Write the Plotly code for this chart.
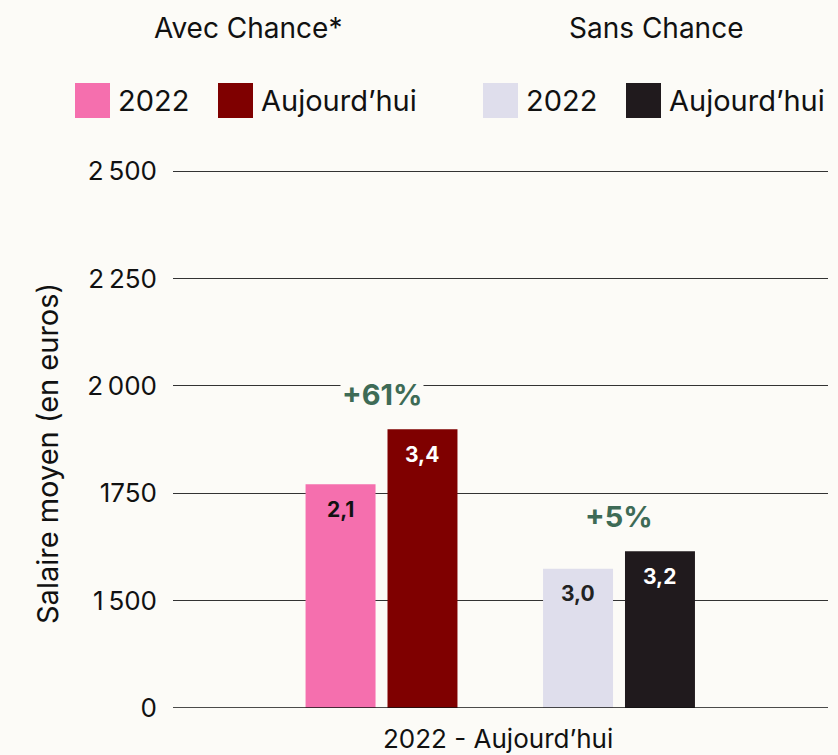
import plotly.graph_objects as go

# ---- data ----
groups = ["Avec Chance*", "Sans Chance"]
series_names = ["2022", "Aujourd\u2019hui"]
values_2022 = [1771, 1574]
values_today = [1899, 1615]
labels_2022 = ["2,1", "3,0"]
labels_today = ["3,4", "3,2"]
growth_labels = ["+61%", "+5%"]
tick_vals = [1250, 1500, 1750, 2000, 2250, 2500]
tick_text = ["0", "1\u202f500", "1750", "2\u202f000", "2\u202f250", "2\u202f500"]
x_title = "2022 - Aujourd\u2019hui"
y_title = "Salaire moyen (en euros)"

# ---- style ----
BG = "#fcfbf7"
colors_2022 = ["#f56fae", "#dfdeec"]
colors_today = ["#7f0000", "#201a1d"]
label_colors_2022 = ["#111111", "#222222"]
label_colors_today = ["#ffffff", "#ffffff"]
GREEN = "#3e6b56"
FONT = "Inter"
TXT = "#111111"

W, H = 838, 755
L, R, T, B = 173, 10, 161, 47
PW, PH = W - L - R, H - T - B
PX_PER_UNIT = 107.4 / 250
Y_MIN = 1250
Y_MAX = Y_MIN + PH / PX_PER_UNIT


def px(xp):
    return (xp - L) / PW


def py(yp):
    return (H - B - yp) / PH


xs = list(range(len(groups)))

fig = go.Figure()
fig.add_trace(go.Bar(x=xs, y=values_2022, name=series_names[0],
                     marker=dict(color=colors_2022, line=dict(width=0)),
                     showlegend=False, hoverinfo="skip"))
fig.add_trace(go.Bar(x=xs, y=values_today, name=series_names[1],
                     marker=dict(color=colors_today, line=dict(width=0)),
                     showlegend=False, hoverinfo="skip"))

annotations = []
for i in xs:
    annotations.append(dict(x=i - 0.1725, y=values_2022[i], xref="x", yref="y",
                            text="<b>%s</b>" % labels_2022[i], showarrow=False,
                            yshift=-25, font=dict(family=FONT, size=21, color=label_colors_2022[i])))
    annotations.append(dict(x=i + 0.1725, y=values_today[i], xref="x", yref="y",
                            text="<b>%s</b>" % labels_today[i], showarrow=False,
                            yshift=-25, font=dict(family=FONT, size=21, color=label_colors_today[i])))
    annotations.append(dict(x=i, y=max(values_2022[i], values_today[i]), xref="x", yref="y",
                            text="<b>%s</b>" % growth_labels[i], showarrow=False,
                            yshift=35, bgcolor=BG,
                            font=dict(family=FONT, size=29, color=GREEN)))

title_cx = [248, 656]
sq_left = [[75, 218], [483, 626]]
shapes = []
for g in range(len(groups)):
    annotations.append(dict(x=px(title_cx[g]), y=py(28), xref="paper", yref="paper",
                            text=groups[g], showarrow=False, xanchor="center", yanchor="middle",
                            font=dict(family=FONT, size=28, color=TXT)))
    cols = [colors_2022[g], colors_today[g]]
    for s in range(2):
        x0 = sq_left[g][s]
        shapes.append(dict(type="rect", xref="paper", yref="paper",
                           x0=px(x0), x1=px(x0 + 35), y0=py(118), y1=py(83),
                           fillcolor=cols[s], line=dict(width=0)))
        annotations.append(dict(x=px(x0 + 41), y=py(100), xref="paper", yref="paper",
                                text=series_names[s], showarrow=False,
                                xanchor="left", yanchor="middle",
                                font=dict(family=FONT, size=29, color=TXT)))

annotations.append(dict(x=px(47), y=py(454), xref="paper", yref="paper", text=y_title,
                        textangle=-90, showarrow=False, xanchor="center", yanchor="middle",
                        font=dict(family=FONT, size=29, color=TXT)))
annotations.append(dict(x=px(498), y=py(738), xref="paper", yref="paper", text=x_title,
                        showarrow=False, xanchor="center", yanchor="middle",
                        font=dict(family=FONT, size=26, color=TXT)))

fig.update_layout(
    width=W, height=H,
    margin=dict(l=L, r=R, t=T, b=B, pad=0),
    paper_bgcolor=BG, plot_bgcolor=BG,
    barmode="group", bargap=0.31, bargroupgap=0.146,
    showlegend=False,
    annotations=annotations, shapes=shapes,
    xaxis=dict(range=[-0.878, 1.880], showticklabels=False, showgrid=False,
               zeroline=False, showline=False, ticks=""),
    yaxis=dict(range=[Y_MIN, Y_MAX], tickvals=tick_vals, ticktext=tick_text,
               showgrid=True, gridcolor="#333333", gridwidth=1, zeroline=False,
               showline=False, ticks="", ticklabelstandoff=15,
               tickfont=dict(family=FONT, size=26, color=TXT)),
)
fig.add_hline(y=Y_MIN, line=dict(color="#111111", width=1.5), layer="above")

fig.write_html("out.html", config={"displayModeBar": False},
               post_script="document.body.style.margin='0';")
